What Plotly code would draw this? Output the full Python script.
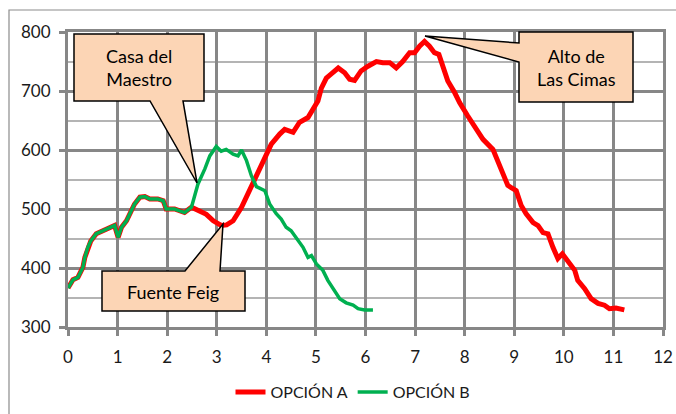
import plotly.graph_objects as go

# ---------------- data ----------------
shared_km = [0, 0.05, 0.10, 0.20, 0.30, 0.34, 0.40, 0.46, 0.57, 0.70, 0.84, 0.94, 1.01, 1.08,
             1.18, 1.28, 1.34, 1.45, 1.55, 1.65, 1.81, 1.92, 1.98, 2.15, 2.35, 2.49]
shared_alt = [366, 374, 380, 384, 401, 418, 435, 446, 458, 463, 469, 472, 452, 469,
              480, 497, 508, 520, 521, 517, 517, 514, 500, 500, 494, 503]

a_km = [2.66, 2.79, 2.93, 3.09, 3.20, 3.33, 3.50, 3.66, 3.80, 3.97, 4.10, 4.27, 4.37, 4.54,
        4.67, 4.84, 4.94, 5.04, 5.11, 5.21, 5.31, 5.45, 5.58, 5.68, 5.78, 5.91, 6.05, 6.22,
        6.35, 6.49, 6.62, 6.75, 6.89, 6.99, 7.09, 7.19, 7.29, 7.39, 7.48, 7.56, 7.66, 7.80,
        7.90, 8.06, 8.23, 8.37, 8.57, 8.67, 8.77, 8.87, 8.94, 9.04, 9.14, 9.24, 9.38, 9.48,
        9.58, 9.68, 9.78, 9.88, 9.97, 10.08, 10.22, 10.28, 10.42, 10.55, 10.69, 10.82, 10.92,
        11.05, 11.22]
a_alt = [497, 491, 480, 472, 473, 480, 503, 531, 556, 587, 610, 627, 635, 630,
         647, 655, 669, 683, 705, 722, 729, 739, 731, 720, 718, 734, 742, 750,
         748, 748, 739, 750, 765, 765, 776, 784, 776, 765, 762, 739, 717, 697,
         680, 658, 638, 618, 601, 582, 559, 540, 536, 531, 506, 492, 477, 472,
         460, 458, 435, 416, 424, 410, 396, 379, 365, 348, 340, 337, 331,
         332, 329]

b_km = [2.55, 2.62, 2.76, 2.86, 2.99, 3.09, 3.19, 3.33, 3.43, 3.50, 3.60, 3.70, 3.80, 3.97,
        4.07, 4.20, 4.30, 4.40, 4.50, 4.60, 4.74, 4.84, 4.91, 5.01, 5.14, 5.24, 5.38, 5.48,
        5.61, 5.75, 5.85, 5.98, 6.15]
b_alt = [522, 542, 568, 590, 606, 598, 601, 593, 590, 600, 582, 556, 538, 531,
         508, 492, 483, 469, 463, 452, 435, 418, 421, 407, 396, 379, 362, 348,
         341, 337, 331, 329, 329]

series_names = ["OPCIÓN A", "OPCIÓN B"]
x_ticks = list(range(0, 13))
y_ticks = [300, 400, 500, 600, 700, 800]
callout_texts = ["Casa del<br>Maestro", "Alto de<br>Las Cimas", "Fuente Feig"]

# ---------------- layout helpers ----------------
W, H = 676, 414
ML, MR, MT, MB = 68, 13, 32, 87
PW, PH = W - ML - MR, H - MT - MB


def px(x, y):
    return (x - ML) / PW, (H - MB - y) / PH


def path(points):
    s = ""
    for i, (x, y) in enumerate(points):
        xp, yp = px(x, y)
        s += ("M" if i == 0 else "L") + f"{xp:.5f},{yp:.5f} "
    return s + "Z"


callout_shapes = [
    [(74, 34), (204, 34), (204, 101), (183, 101), (197, 183), (150, 101), (74, 101)],
    [(519, 32), (633, 32), (633, 102), (519, 102), (519, 62), (425, 36), (519, 43)],
    [(102, 271), (185, 271), (223, 224), (220, 271), (245, 271), (245, 311), (102, 311)],
]
callout_text_pos = [(139, 68), (576, 67), (173, 292)]

FONT = "Lato, 'Open Sans', sans-serif"
GRID = "#878787"

fig = go.Figure()
fig.add_trace(go.Scatter(x=shared_km + a_km, y=shared_alt + a_alt, mode="lines",
                         name=series_names[0],
                         line=dict(color="#ff0000", width=5)))
fig.add_trace(go.Scatter(x=shared_km + b_km, y=shared_alt + b_alt, mode="lines",
                         name=series_names[1],
                         line=dict(color="#00b050", width=3.5)))

shapes = []
# outer chart border
x0, y0 = px(9, 10)
x1, y1 = px(700, 440)
shapes.append(dict(type="rect", xref="paper", yref="paper", x0=x0, y0=y1, x1=x1, y1=y0,
                   line=dict(color="#8c8c8c", width=1.2), fillcolor="rgba(0,0,0,0)",
                   layer="below"))
for pts in callout_shapes:
    shapes.append(dict(type="path", xref="paper", yref="paper", path=path(pts),
                       fillcolor="#fcd5b5", line=dict(color="#000000", width=1.5),
                       layer="above"))

annotations = []
for txt, (cx, cy) in zip(callout_texts, callout_text_pos):
    xp, yp = px(cx, cy)
    annotations.append(dict(xref="paper", yref="paper", x=xp, y=yp, text=txt,
                            showarrow=False, xanchor="center", yanchor="middle",
                            font=dict(family=FONT, size=18, color="#000000")))

fig.update_layout(
    width=W, height=H,
    margin=dict(l=ML, r=MR, t=MT, b=MB, autoexpand=False),
    paper_bgcolor="white", plot_bgcolor="white",
    font=dict(family=FONT, size=17, color="#1a1a1a"),
    showlegend=True,
    legend=dict(orientation="h", x=px(353, 392)[0], y=px(353, 392)[1],
                xanchor="center", yanchor="middle",
                font=dict(family=FONT, size=16, color="#1a1a1a"),
                itemwidth=30, tracegroupgap=0),
    shapes=shapes,
    annotations=annotations,
    xaxis=dict(range=[0, 12], tickvals=x_ticks, showgrid=True, gridcolor=GRID, gridwidth=3,
               zeroline=False, showline=True, linecolor=GRID, linewidth=3, mirror=True,
               ticks="outside", ticklen=6, tickwidth=3, tickcolor=GRID,
               ticklabelstandoff=7, automargin=False, fixedrange=True),
    yaxis=dict(range=[300, 800], tickvals=y_ticks, showgrid=True, gridcolor=GRID, gridwidth=3,
               zeroline=False, showline=True, linecolor=GRID, linewidth=3, mirror=True,
               ticks="outside", ticklen=6, tickwidth=3, tickcolor=GRID,
               ticklabelstandoff=5, automargin=False,
               minor=dict(dtick=50, tick0=300, showgrid=True, gridcolor="#b4b4b4",
                          gridwidth=1.5, ticks=""),
               fixedrange=True),
)

fig.write_html("out.html", config={"displayModeBar": False},
               post_script="document.body.style.margin='0px';document.body.style.overflow='hidden';")
